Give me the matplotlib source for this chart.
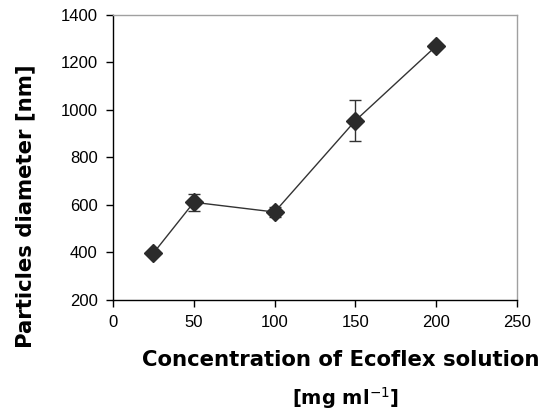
import matplotlib
matplotlib.use("Agg")
import matplotlib.pyplot as plt

# Ecoflex concentration vs particle size
conc = [25, 50, 100, 150, 200]
diameter = [397, 611, 570, 955, 1269]
err = [0, 35, 20, 86, 0]

xticks = [0, 50, 100, 150, 200, 250]
yticks = [200, 400, 600, 800, 1000, 1200, 1400]

fig = plt.figure(figsize=(5.46, 4.12), dpi=100)
ax = fig.add_axes([0.207, 0.272, 0.740, 0.692])

ax.errorbar(conc, diameter, yerr=err, color="#333333", lw=1.0, marker="D",
            ms=9, mfc="#2b2b2b", mec="#2b2b2b", ecolor="#333333",
            elinewidth=1.0, capsize=4.5, capthick=1.0)

ax.set_xlim(0, 250)
ax.set_ylim(200, 1400)
ax.set_xticks(xticks)
ax.set_yticks(yticks)
ax.tick_params(direction="out", length=5, width=1, labelsize=12, pad=6)
for lbl in ax.get_xticklabels() + ax.get_yticklabels():
    lbl.set_fontfamily("Liberation Sans")

for side in ["left", "bottom"]:
    ax.spines[side].set_color("black")
    ax.spines[side].set_linewidth(1.0)
for side in ["top", "right"]:
    ax.spines[side].set_color("#a0a0a0")
    ax.spines[side].set_linewidth(1.0)

lab = dict(fontweight="bold", family="DejaVu Sans")
fig.text(0.046, 0.499, "Particles diameter [nm]", rotation=90, fontsize=15.3,
         ha="center", va="center", **lab)
fig.text(0.624, 0.126, "Concentration of Ecoflex solution", fontsize=15.3,
         ha="center", va="center", **lab)
fig.text(0.632, 0.034, r"[mg ml$^{-1}$]", fontsize=14,
         ha="center", va="center", **lab)

fig.savefig("out.png", dpi=100)
